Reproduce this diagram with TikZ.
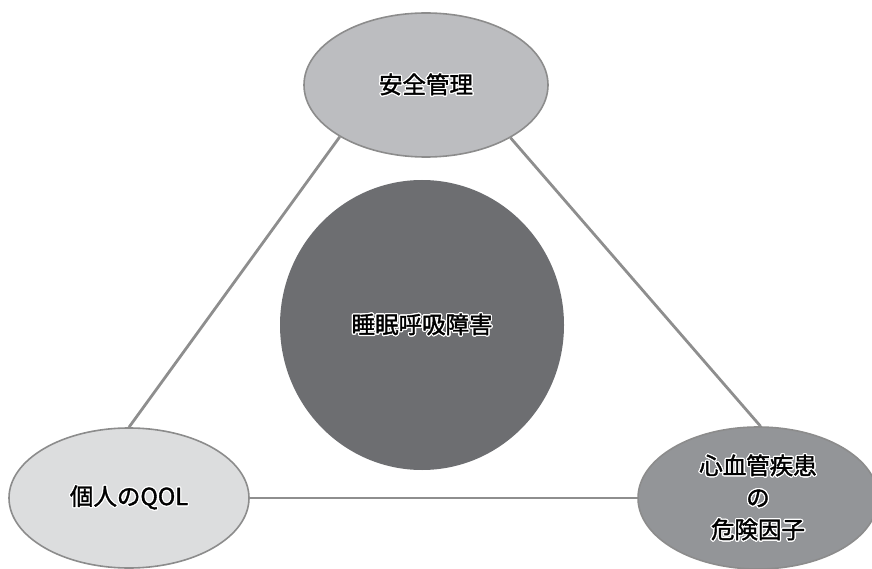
\documentclass[tikz,border=0pt]{standalone}
\usepackage{fontspec}
\setmainfont{Noto Sans CJK JP}[FakeBold=1.6]
\usepackage{contour}
\contourlength{1.2pt}
\usetikzlibrary{shapes.geometric,backgrounds}
\definecolor{topfill}{HTML}{BCBDC0}
\definecolor{leftfill}{HTML}{DCDDDE}
\definecolor{rightfill}{HTML}{939598}
\definecolor{centerfill}{HTML}{6D6E71}
\definecolor{edgegray}{HTML}{8C8C8C}
\definecolor{linkgray}{HTML}{8E8E8E}
\tikzset{
  bubble/.style={ellipse, draw=edgegray, line width=1.6pt, inner sep=0pt,
    font=\fontsize{23.5}{32}\selectfont, align=center, text=black},
  link/.style={draw=linkgray, line width=2.8pt},
}
\newcommand{\hl}[1]{\contour{white}{#1}}
\begin{document}
\begin{tikzpicture}[x=1pt,y=-1pt]
\useasboundingbox (0,0) rectangle (872,569);
\node[bubble, fill=topfill, minimum width=244pt, minimum height=144pt] (top) at (426,85) {\hl{安全管理}};
\node[bubble, fill=centerfill, draw=none, minimum width=284pt, minimum height=290pt] (center) at (422,325) {\hl{睡眠呼吸障害}};
\node[bubble, fill=leftfill, minimum width=240pt, minimum height=140pt] (left) at (129,498) {\hl{個人のQOL}};
\node[bubble, fill=rightfill, minimum width=240pt, minimum height=142pt] (right) at (758,498) {\hl{心血管疾患}\\\hl{の}\\\hl{危険因子}};
\begin{scope}[on background layer]
\path[link] (top.211) -- (left.90);
\path[link] (top.-32) -- (right.88);
\path[link] (left.east) -- (right.west);
\end{scope}
\end{tikzpicture}
\end{document}
